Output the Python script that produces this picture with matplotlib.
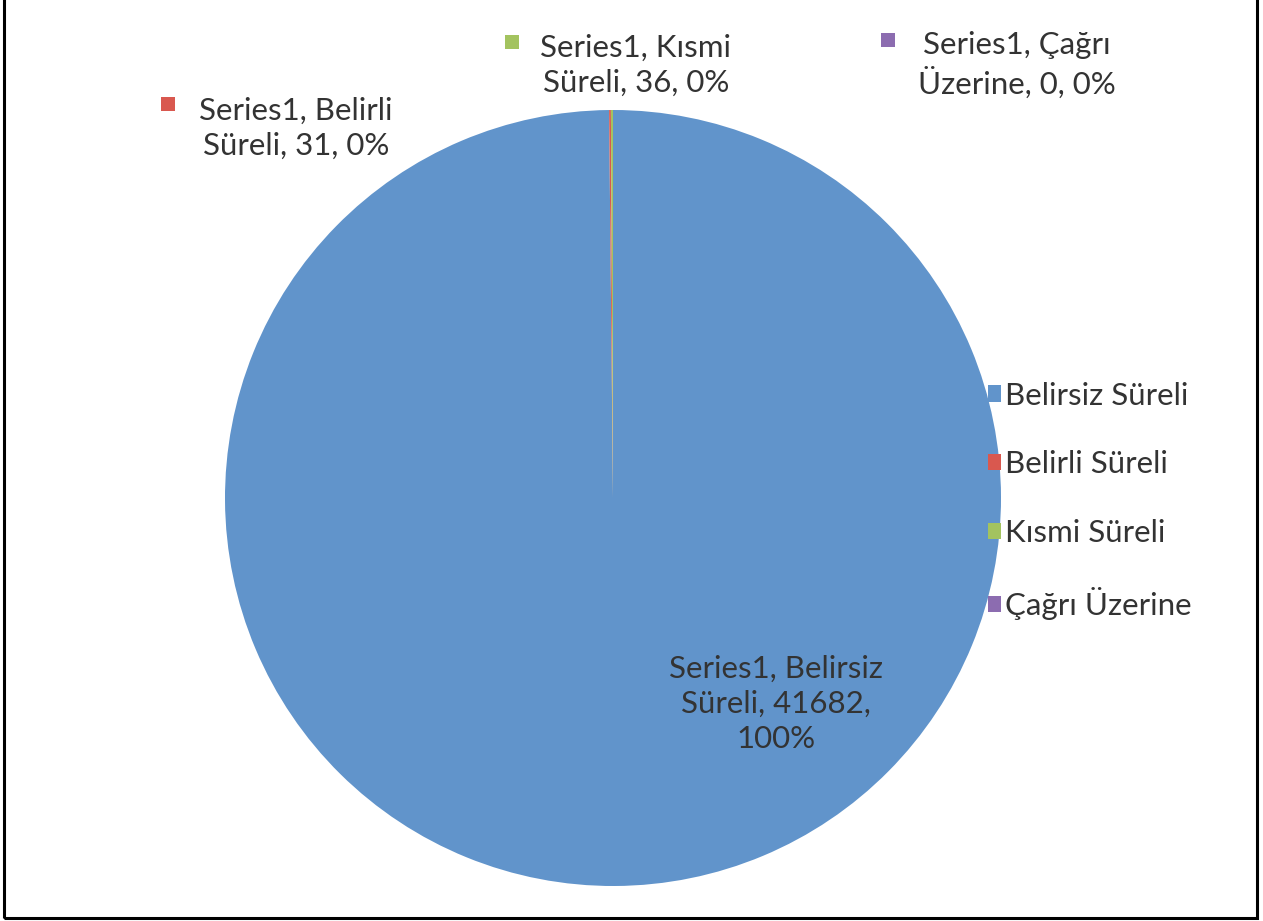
import matplotlib.pyplot as plt
from matplotlib.patches import Rectangle, Patch

plt.rcParams['font.family'] = ['Lato', 'DejaVu Sans']

categories = ['Belirsiz Süreli', 'Belirli Süreli', 'Kısmi Süreli', 'Çağrı Üzerine']
values = [41682, 31, 36, 0]
percents = ['100%', '0%', '0%', '0%']
colors = ['#6194CB', '#D9584F', '#A3C35F', '#8C6CB0']
series = 'Series1'

W, H = 1263, 921
cx, cy, R = 613, 498, 388   # pie centre and radius in pixels


def px(x, y):
    # pixel position (from top-left) to data coordinates
    return (x - cx) / R, (cy - y) / R


fig = plt.figure(figsize=(W / 100, H / 100), dpi=100)
ax = fig.add_axes([0, 0, 1, 1])

wedges, _ = ax.pie(values, colors=colors, startangle=90, counterclock=False,
                   radius=1, wedgeprops=dict(linewidth=0))
ax.set_aspect('auto')
ax.set_xlim(-cx / R, (W - cx) / R)
ax.set_ylim(-(H - cy) / R, cy / R)
ax.axis('off')

txt_color = '#333333'
fs = 22.5

# data labels
lab_pos = [(776, 704), (296, 128), (636, 65), (1017, 65)]
lab_text = [
    f'{series}, Belirsiz\nSüreli, {values[0]},\n{percents[0]}',
    f'{series}, Belirli\nSüreli, {values[1]}, {percents[1]}',
    f'{series}, Kısmi\nSüreli, {values[2]}, {percents[2]}',
    f'{series}, Çağrı\nÜzerine, {values[3]}, {percents[3]}',
]
for i, (p, t) in enumerate(zip(lab_pos, lab_text)):
    x, y = px(*p)
    ax.text(x, y, t, ha='center', va='center', fontsize=fs, color=txt_color,
            linespacing=1.3)

# little colour keys beside the outer labels
key_pos = [(168, 104), (512, 42), (888, 40)]
for i, p in enumerate(key_pos):
    x, y = px(*p)
    ax.plot(x, y, 's', color=colors[i + 1], ms=10.5, mew=0)

# legend
handles = [Patch(facecolor=c, edgecolor='none') for c in colors]
leg = ax.legend(handles, categories, loc='center left',
                bbox_to_anchor=(988 / W, 1 - 501 / H), frameon=False,
                fontsize=fs, handlelength=0.42, handleheight=0.42,
                handletextpad=0.12, labelspacing=1.3, borderaxespad=0,
                borderpad=0)
for t in leg.get_texts():
    t.set_color(txt_color)

# outer frame
fig.patches.append(Rectangle((4 / W, 3 / H), 1253 / W, 1.2, fill=False,
                             edgecolor='black', linewidth=2.2,
                             transform=fig.transFigure))

fig.savefig('out.png', dpi=100)
